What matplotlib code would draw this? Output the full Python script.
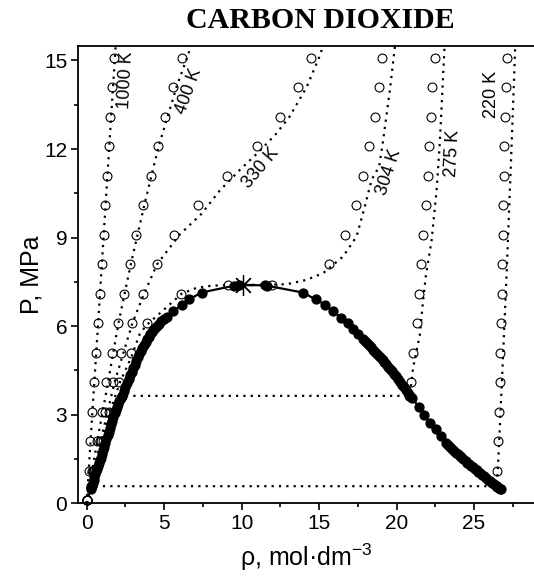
import matplotlib
matplotlib.use("Agg")
import matplotlib.pyplot as plt
from matplotlib.ticker import MultipleLocator

plt.rcParams['font.family'] = ['Liberation Sans', 'DejaVu Sans']
plt.rcParams['mathtext.default'] = 'regular'

# --- open circles: isotherm data (rho in mol/dm3, P in MPa) ---
p_iso = [0.1, 1.1, 2.1, 3.1, 4.1, 5.1, 6.1, 7.1, 8.1, 9.1, 10.1, 11.1, 12.1, 13.1, 14.1, 15.1]
rho_1000 = [0.01, 0.12, 0.24, 0.36, 0.48, 0.6, 0.72, 0.84, 0.97, 1.09, 1.2, 1.31, 1.42, 1.53, 1.65, 1.78]
rho_400 = [0.03, 0.34, 0.66, 0.96, 1.27, 1.61, 2.0, 2.4, 2.79, 3.16, 3.65, 4.15, 4.58, 5.05, 5.59, 6.13]
rho_330 = [0.04, 0.42, 0.85, 1.2, 1.72, 2.24, 2.9, 3.66, 4.52, 5.65, 7.2, 9.07, 11.0, 12.5, 13.65, 14.5]

p_304 = [0.1, 1.1, 2.1, 3.1, 4.1, 5.1, 6.1, 7.1, 7.38, 7.38, 8.1, 9.1, 10.1, 11.1, 12.1, 13.1, 14.1, 15.1]
rho_304 = [0.04, 0.45, 0.95, 1.46, 2.1, 2.84, 3.91, 6.1, 9.1, 11.95, 15.65, 16.7, 17.4, 17.85, 18.25, 18.6, 18.85, 19.05]

p_275 = [0.1, 1.1, 2.1, 3.1, 3.64, 3.64, 4.1, 5.1, 6.1, 7.1, 8.1, 9.1, 10.1, 11.1, 12.1, 13.1, 14.1, 15.1]
rho_275 = [0.04, 0.5, 1.05, 1.75, 2.26, 20.8, 20.9, 21.07, 21.29, 21.45, 21.55, 21.72, 21.89, 22.0, 22.1, 22.2, 22.3, 22.45]

p_220 = [0.1, 0.58, 0.58, 1.1, 2.1, 3.1, 4.1, 5.1, 6.1, 7.1, 8.1, 9.1, 10.1, 11.1, 12.1, 13.1, 14.1, 15.1]
rho_220 = [0.03, 0.3, 26.45, 26.49, 26.55, 26.6, 26.65, 26.7, 26.74, 26.78, 26.8, 26.84, 26.88, 26.92, 26.96, 27.0, 27.05, 27.1]

# --- dotted lines: equation of state isotherms ---
line_1000_rho = [0.0, 0.37, 0.74, 1.1, 1.46, 1.87]
line_1000_p = [0.0, 3.1, 6.1, 9.1, 12.1, 15.5]
line_400_rho = [0.0, 0.68, 1.38, 2.05, 2.85, 3.72, 4.65, 5.8, 6.75]
line_400_p = [0.0, 2.1, 4.1, 6.1, 8.1, 10.1, 12.1, 14.1, 15.5]
line_330_rho = [0.0, 0.9, 1.8, 2.95, 3.7, 4.55, 6.0, 7.4, 8.6, 9.9, 11.1, 12.2, 13.1, 14.2, 15.0, 15.3]
line_330_p = [0.0, 2.1, 4.1, 6.1, 7.1, 8.1, 9.1, 9.8, 10.6, 11.3, 11.9, 12.5, 13.1, 14.1, 15.1, 15.55]
line_304_rho = [0.0, 0.45, 0.95, 1.5, 2.15, 2.9, 3.44, 3.9, 4.73, 6.13, 7.1, 8.06, 9.0, 10.1, 11.5,
                12.9, 14.2, 15.27, 16.55, 17.42, 17.95, 18.39, 18.88, 19.14, 19.57, 19.9]
line_304_p = [0.0, 1.1, 2.1, 3.1, 4.1, 4.97, 5.76, 6.05, 6.44, 7.1, 7.3, 7.37, 7.39, 7.4, 7.4,
              7.42, 7.57, 7.8, 8.36, 9.04, 10.05, 10.96, 11.41, 12.32, 14.0, 15.5]
line_275_rho = [0.0, 0.5, 1.05, 1.75, 2.3, 20.85, 21.07, 21.5, 21.7, 21.9, 22.26, 22.6, 22.8, 23.1]
line_275_p = [0.0, 1.1, 2.1, 3.1, 3.64, 3.64, 4.6, 5.7, 6.8, 7.75, 8.9, 10.7, 12.3, 15.5]
line_220_rho = [0.0, 0.3, 26.45, 26.55, 26.84, 27.1, 27.38, 27.66]
line_220_p = [0.0, 0.58, 0.58, 1.3, 4.6, 7.75, 11.5, 15.5]

# --- filled circles: saturation curve ---
sat_vap_rho = [0.28, 0.31, 0.35, 0.4, 0.45, 0.5, 0.55, 0.6, 0.65, 0.72, 0.78, 0.84, 0.9, 0.97,
               1.05, 1.12, 1.2, 1.27, 1.35, 1.42, 1.5, 1.57, 1.65, 1.72, 1.8, 1.87, 1.95, 2.02,
               2.1, 2.2, 2.3, 2.4, 2.5, 2.6, 2.7, 2.8, 2.9, 3.0, 3.1, 3.2, 3.3, 3.4, 3.5, 3.6,
               3.7, 3.8, 3.9, 4.0, 4.1, 4.2, 4.3, 4.41, 4.52, 4.66, 4.8, 4.98, 5.16, 5.59, 6.13,
               6.62, 7.42, 9.5, 9.8]
sat_vap_p = [0.47, 0.53, 0.6, 0.7, 0.8, 0.9, 1.0, 1.08, 1.15, 1.25, 1.35, 1.45, 1.55, 1.68,
             1.8, 1.92, 2.05, 2.17, 2.3, 2.42, 2.55, 2.67, 2.8, 2.92, 3.05, 3.15, 3.25, 3.35,
             3.45, 3.55, 3.65, 3.8, 3.95, 4.08, 4.2, 4.33, 4.45, 4.58, 4.7, 4.83, 4.95, 5.05,
             5.15, 5.25, 5.35, 5.45, 5.55, 5.64, 5.72, 5.8, 5.87, 5.94, 6.0, 6.08, 6.16, 6.24,
             6.32, 6.5, 6.72, 6.91, 7.14, 7.37, 7.38]
sat_liq_rho = [11.5, 11.65, 13.94, 14.77, 15.4, 15.9, 16.4, 16.84, 17.2, 17.52, 17.85, 17.97,
               18.1, 18.22, 18.35, 18.47, 18.6, 18.72, 18.85, 18.97, 19.1, 19.22, 19.35, 19.47,
               19.6, 19.72, 19.85, 19.97, 20.1, 20.22, 20.35, 20.47, 20.6, 20.73, 20.86, 21.0,
               21.44, 21.78, 22.15, 22.54, 22.9, 23.2, 23.32, 23.45, 23.57, 23.7, 23.82, 23.95,
               24.07, 24.19, 24.32, 24.45, 24.57, 24.7, 24.82, 24.95, 25.05, 25.16, 25.28, 25.4,
               25.52, 25.65, 25.77, 25.9, 26.02, 26.15, 26.27, 26.4, 26.5, 26.6, 26.68, 26.77]
sat_liq_p = [7.38, 7.37, 7.14, 6.91, 6.72, 6.5, 6.29, 6.1, 5.91, 5.74, 5.56, 5.49,
             5.42, 5.35, 5.28, 5.2, 5.13, 5.06, 4.99, 4.93, 4.86, 4.78, 4.71, 4.63,
             4.55, 4.47, 4.39, 4.3, 4.2, 4.11, 4.02, 3.93, 3.84, 3.73, 3.62, 3.56,
             3.27, 2.99, 2.73, 2.51, 2.28, 2.05, 1.98, 1.92, 1.84, 1.77, 1.71, 1.66,
             1.61, 1.56, 1.5, 1.44, 1.38, 1.33, 1.27, 1.22, 1.17, 1.13, 1.07, 1.02,
             0.96, 0.91, 0.85, 0.79, 0.74, 0.69, 0.64, 0.6, 0.56, 0.53, 0.5, 0.47]
crit_rho = 10.1
crit_p = 7.4

labels = ['1000 K', '400 K', '330 K', '304 K', '275 K', '220 K']
label_rho = [2.57, 6.6, 11.2, 19.5, 23.6, 26.1]
label_p = [14.33, 13.95, 11.35, 11.2, 11.85, 13.85]
label_rot = [87, 70, 50, 72, 87, 90]

fig = plt.figure(figsize=(5.34, 5.78), dpi=100)
ax = fig.add_axes([78.3 / 534, 1 - 503.3 / 578, 1 - 78.3 / 534, (503.3 - 45.7) / 578])

dot = (0, (1, 2.3))
lines = [(line_1000_rho, line_1000_p), (line_400_rho, line_400_p), (line_330_rho, line_330_p),
         (line_304_rho, line_304_p), (line_275_rho, line_275_p), (line_220_rho, line_220_p)]
for xr, yp in lines:
    ax.plot(xr, yp, color='black', linestyle=dot, linewidth=1.6)

circles = [(rho_1000, p_iso), (rho_400, p_iso), (rho_330, p_iso),
           (rho_304, p_304), (rho_275, p_275), (rho_220, p_220)]
for xr, yp in circles:
    ax.plot(xr, yp, linestyle='none', marker='o', markersize=6.4, mfc='none',
            mec='black', mew=0.8, clip_on=False)

# saturation curve through the critical point
curve_rho = sat_vap_rho + [crit_rho] + sat_liq_rho
curve_p = sat_vap_p + [crit_p] + sat_liq_p
ax.plot(curve_rho, curve_p, color='black', linewidth=1.6)
ax.plot(sat_vap_rho + sat_liq_rho, sat_vap_p + sat_liq_p, linestyle='none', marker='o',
        markersize=6.4, color='black')
ax.plot([crit_rho], [crit_p], linestyle='none', marker=(8, 2, 0), markersize=15,
        color='black', mew=0.9)

for txt, xr, yp, rot in zip(labels, label_rho, label_p, label_rot):
    ax.text(xr, yp, txt, rotation=rot, fontsize=13, ha='center', va='center',
            rotation_mode='anchor')

ax.set_xlim(-0.54, 28.87)
ax.set_ylim(0, 15.5)
ax.xaxis.set_major_locator(MultipleLocator(5))
ax.xaxis.set_minor_locator(MultipleLocator(2.5))
ax.yaxis.set_major_locator(MultipleLocator(3))
ax.yaxis.set_minor_locator(MultipleLocator(1.5))
ax.tick_params(which='major', direction='out', length=5, width=1.2, labelsize=15, pad=3)
ax.tick_params(which='minor', direction='out', length=3, width=1.2)
ax.spines['right'].set_visible(False)
for s in ['left', 'bottom', 'top']:
    ax.spines[s].set_linewidth(1.3)

ax.set_xlabel('ρ, mol·dm$^{-3}$', fontsize=18, labelpad=6)
ax.set_ylabel('P, MPa', fontsize=18, labelpad=0)
fig.text(320 / 534, 1 - 20 / 578, 'CARBON DIOXIDE', fontsize=21.5, fontweight='bold',
         family='Liberation Serif', ha='center', va='center')

fig.savefig('out.png', dpi=100)
